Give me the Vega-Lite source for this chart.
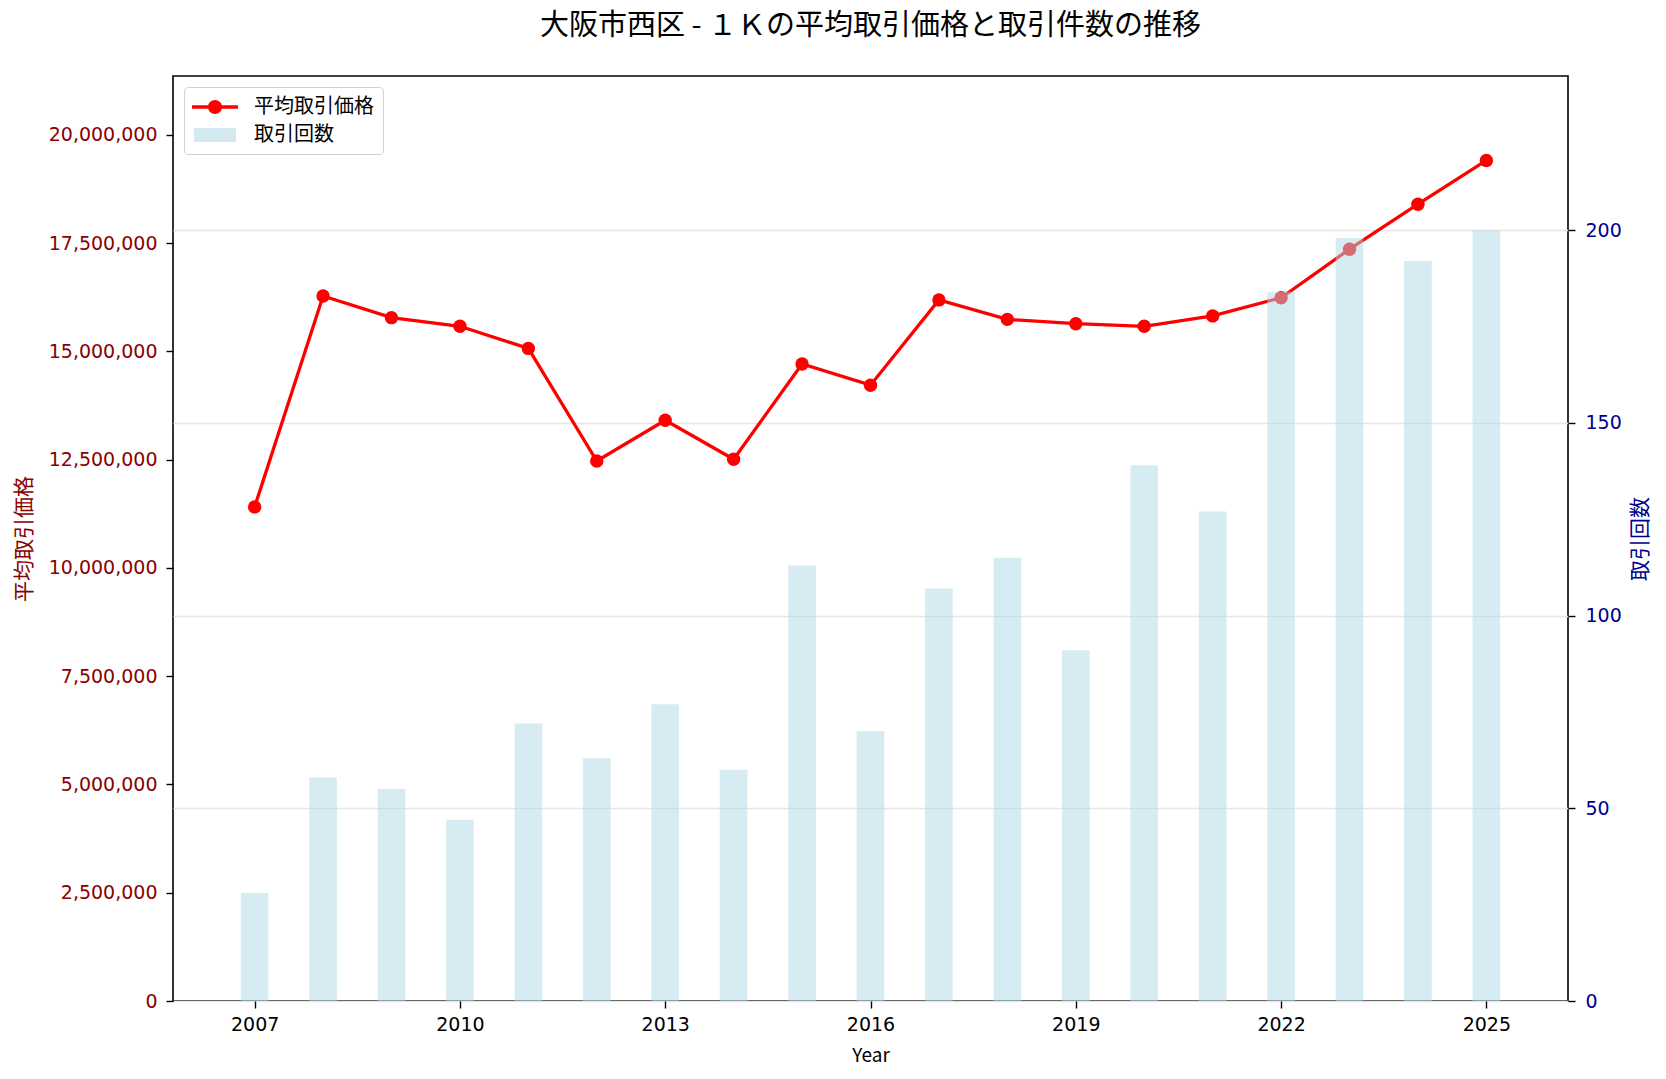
{
  "$schema": "https://vega.github.io/schema/vega-lite/v6.json",
  "autosize": {"type": "none"},
  "width": 1395,
  "height": 925,
  "padding": {"left": 173, "top": 76, "right": 98, "bottom": 78},
  "background": "white",
  "title": {"text": "大阪市西区 - １Ｋの平均取引価格と取引件数の推移", "fontSize": 29, "font": "Noto Sans CJK JP", "fontWeight": "normal", "color": "black", "anchor": "middle", "baseline": "bottom", "offset": 6},
  "config": {
    "font": "Noto Sans CJK JP",
    "view": {"stroke": "black", "strokeWidth": 1.6},
    "axis": {"domain": false, "ticks": true, "tickColor": "black", "tickWidth": 1.4, "tickSize": 7, "labelFontSize": 19, "titleFontSize": 21, "titleFontWeight": "normal", "grid": false, "labelFont": "DejaVu Sans", "titleFont": "Noto Sans CJK JP", "labelFlush": false, "labelOverlap": false}
  },
  "data": {"values": [
    {"year": 2007, "price": 11410000, "count": 28},
    {"year": 2008, "price": 16280000, "count": 58},
    {"year": 2009, "price": 15780000, "count": 55},
    {"year": 2010, "price": 15580000, "count": 47},
    {"year": 2011, "price": 15070000, "count": 72},
    {"year": 2012, "price": 12470000, "count": 63},
    {"year": 2013, "price": 13410000, "count": 77},
    {"year": 2014, "price": 12510000, "count": 60},
    {"year": 2015, "price": 14710000, "count": 113},
    {"year": 2016, "price": 14220000, "count": 70},
    {"year": 2017, "price": 16190000, "count": 107},
    {"year": 2018, "price": 15740000, "count": 115},
    {"year": 2019, "price": 15640000, "count": 91},
    {"year": 2020, "price": 15580000, "count": 139},
    {"year": 2021, "price": 15820000, "count": 127},
    {"year": 2022, "price": 16240000, "count": 184},
    {"year": 2023, "price": 17360000, "count": 198},
    {"year": 2024, "price": 18400000, "count": 192},
    {"year": 2025, "price": 19410000, "count": 200}
  ]},
  "encoding": {
    "x": {"field": "year", "type": "quantitative", "scale": {"domain": [2005.88, 2026.12], "nice": false, "zero": false},
      "axis": {"values": [2007, 2010, 2013, 2016, 2019, 2022, 2025], "format": "d", "title": "Year", "titleFontSize": 19, "labelPadding": 7, "titlePadding": 12, "labelColor": "black", "titleColor": "black"}}
  },
  "layer": [
    {
      "encoding": {
        "y": {"field": "price", "type": "quantitative", "scale": {"domain": [0, 21360000], "nice": false},
          "axis": {"orient": "left", "values": [0, 2500000, 5000000, 7500000, 10000000, 12500000, 15000000, 17500000, 20000000], "format": ",d", "title": "平均取引価格", "labelColor": "#8b0000", "titleColor": "#8b0000", "labelPadding": 9, "titlePadding": 14, "labelAlign": "right", "labelBaseline": "middle"}}
      },
      "layer": [
        {"mark": {"type": "line", "color": "#ff0000", "strokeWidth": 3.3}, "encoding": {}},
        {"mark": {"type": "point", "filled": true, "size": 180, "opacity": 1, "color": "#ff0000"}, "encoding": {}},
        {"transform": [{"filter": "false"}],
          "mark": {"type": "bar", "size": 10},
          "encoding": {
            "color": {"datum": "平均取引価格", "type": "nominal",
              "scale": {"domain": ["平均取引価格", "取引回数"], "range": ["#ff0000", "#d4eaf0"]},
              "legend": {"title": null, "orient": "top-left", "offset": 11, "padding": 9, "rowPadding": 7, "labelFontSize": 20, "labelColor": "black", "labelOffset": 39, "symbolSize": 400, "strokeColor": "#d0d0d0", "fillColor": "rgba(255,255,255,0.85)", "cornerRadius": 4, "labelFont": "Noto Sans CJK JP",
                "encode": {"symbols": {"update": {
                  "shape": {"signal": "datum.value === '平均取引価格' ? 'M-1.2,-0.17H3.4V0.17H-1.2Z M1.8,0A0.7,0.7,0,1,1,0.4,0A0.7,0.7,0,1,1,1.8,0' : 'M-1.0,-0.7H3.2V0.7H-1.0Z'"},
                  "opacity": {"value": 1}
                }}}}
            }
          }
        }
      ]
    },
    {
      "mark": {"type": "bar", "size": 27.6, "color": "#add8e6", "opacity": 0.5},
      "encoding": {
        "y": {"field": "count", "type": "quantitative", "scale": {"domain": [0, 240], "nice": false},
          "axis": {"orient": "right", "values": [0, 50, 100, 150, 200], "grid": true, "gridColor": "#e6e6e6", "gridWidth": 1.5, "title": "取引回数", "labelColor": "#00008b", "titleColor": "#00008b", "labelPadding": 10, "titlePadding": 8, "titleAngle": 270, "titleBaseline": "top", "labelAlign": "left", "labelBaseline": "middle"}}
      }
    }
  ],
  "resolve": {"scale": {"y": "independent"}}
}
